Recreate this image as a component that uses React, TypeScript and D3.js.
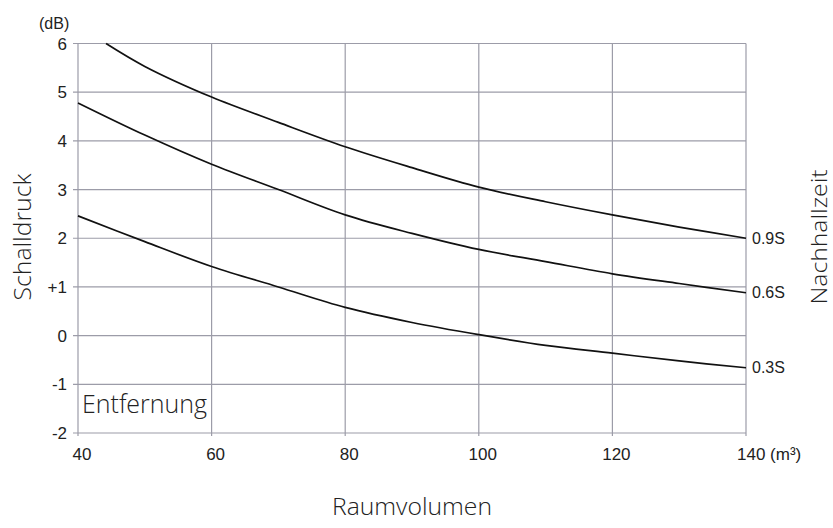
import React from "react";
import * as d3 from "d3";

const xTicks = [40, 60, 80, 100, 120, 140];
const yTicks = [-2, -1, 0, 1, 2, 3, 4, 5, 6];
const yTickLabels = ["-2", "-1", "0", "+1", "2", "3", "4", "5", "6"];

const xs09 = [44.2, 50, 60, 70, 80, 90, 100, 110, 120, 130, 140];
const ys09 = [6.0, 5.53, 4.9, 4.38, 3.88, 3.45, 3.05, 2.75, 2.48, 2.23, 2.0];
const xsAll = [40, 50, 60, 70, 80, 90, 100, 110, 120, 130, 140];
const ys06 = [4.78, 4.12, 3.52, 3.0, 2.48, 2.1, 1.77, 1.52, 1.27, 1.07, 0.88];
const ys03 = [2.46, 1.93, 1.42, 1.0, 0.58, 0.27, 0.02, -0.2, -0.36, -0.52, -0.66];

const seriesNames = ["0.9S", "0.6S", "0.3S"];

const W = 833;
const H = 528;
const left = 78;
const right = 746;
const top = 43.5;
const bottom = 433;

export default function App() {
  const x = d3.scaleLinear().domain([40, 140]).range([left, right]);
  const y = d3.scaleLinear().domain([-2, 6]).range([bottom, top]);
  const line = d3
    .line<[number, number]>()
    .x((d) => x(d[0]))
    .y((d) => y(d[1]))
    .curve(d3.curveCatmullRom.alpha(0.5));

  const series: [number, number][][] = [
    xs09.map((v, i) => [v, ys09[i]] as [number, number]),
    xsAll.map((v, i) => [v, ys06[i]] as [number, number]),
    xsAll.map((v, i) => [v, ys03[i]] as [number, number]),
  ];

  const grid = "#9c9ca8";
  const tickFont = "'Liberation Sans', Arial, sans-serif";
  const labelFont = "'Open Sans', 'Noto Sans', sans-serif";

  return (
    <svg
      width={W}
      height={H}
      style={{ position: "absolute", left: 0, top: 0, background: "#fff" }}
    >
      <rect x={0} y={0} width={W} height={H} fill="#fff" />
      {yTicks.map((t) => (
        <line
          key={"h" + t}
          x1={left - 5}
          x2={right}
          y1={y(t)}
          y2={y(t)}
          stroke={grid}
          strokeWidth={1.2}
        />
      ))}
      {xTicks.map((t) => (
        <line
          key={"v" + t}
          x1={x(t)}
          x2={x(t)}
          y1={top}
          y2={bottom + 3}
          stroke={grid}
          strokeWidth={1.2}
        />
      ))}
      {series.map((s, i) => (
        <path
          key={"s" + i}
          d={line(s) || ""}
          fill="none"
          stroke="#111"
          strokeWidth={1.7}
        />
      ))}
      {series.map((s, i) => (
        <text
          key={"l" + i}
          x={right + 6}
          y={y(s[s.length - 1][1])}
          dy="0.35em"
          fontFamily={tickFont}
          fontSize={16}
          fill="#222"
        >
          {seriesNames[i]}
        </text>
      ))}
      {yTicks.map((t, i) => (
        <text
          key={"yt" + t}
          x={left - 11}
          y={y(t)}
          dy="0.36em"
          textAnchor="end"
          fontFamily={tickFont}
          fontSize={17}
          fill="#222"
        >
          {yTickLabels[i]}
        </text>
      ))}
      {xTicks.map((t) =>
        t === 140 ? (
          <text
            key={"xt" + t}
            x={x(t) - 9}
            y={460}
            fontFamily={tickFont}
            fontSize={17}
            fill="#222"
          >
            140 (m³)
          </text>
        ) : (
          <text
            key={"xt" + t}
            x={x(t) + 4}
            y={460}
            textAnchor="middle"
            fontFamily={tickFont}
            fontSize={17}
            fill="#222"
          >
            {t}
          </text>
        )
      )}
      <text x={39} y={29} fontFamily={tickFont} fontSize={16} fill="#222">
        (dB)
      </text>
      <text
        x={82}
        y={413}
        fontFamily={labelFont}
        fontWeight={300}
        fontSize={25}
        textLength={125}
        lengthAdjust="spacingAndGlyphs"
        fill="#222"
      >
        Entfernung
      </text>
      <text
        transform={`translate(31,${237}) rotate(-90)`}
        textAnchor="middle"
        fontFamily={labelFont}
        fontWeight={300}
        fontSize={23}
        textLength={127}
        lengthAdjust="spacingAndGlyphs"
        fill="#222"
      >
        Schalldruck
      </text>
      <text
        transform={`translate(827,${237}) rotate(-90)`}
        textAnchor="middle"
        fontFamily={labelFont}
        fontWeight={300}
        fontSize={22}
        textLength={135}
        lengthAdjust="spacingAndGlyphs"
        fill="#222"
      >
        Nachhallzeit
      </text>
      <text
        x={412}
        y={515}
        textAnchor="middle"
        fontFamily={labelFont}
        fontWeight={300}
        fontSize={23}
        textLength={160}
        lengthAdjust="spacingAndGlyphs"
        fill="#222"
      >
        Raumvolumen
      </text>
    </svg>
  );
}
